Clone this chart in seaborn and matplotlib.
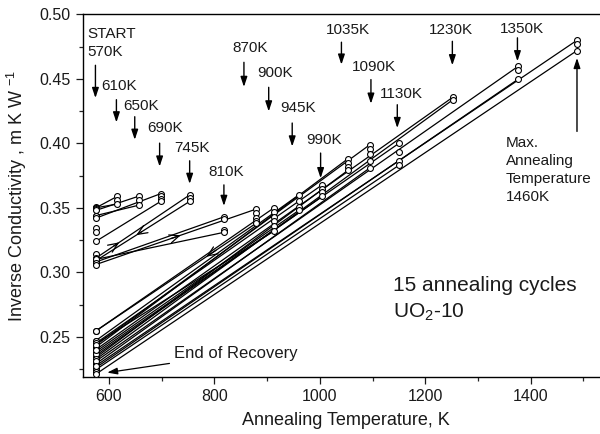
import matplotlib
matplotlib.use("Agg")
import matplotlib.pyplot as plt
import numpy as np
import pandas as pd
import seaborn as sns
from matplotlib.ticker import MultipleLocator, FormatStrFormatter

# Temperature at which the sample is measured between anneals (K)
T_BASE = 575

# Peak temperature reached in each of the 15 annealing cycles (K)
anneal_T = [616, 656, 698, 753, 818, 879, 913, 960, 1005, 1053, 1095, 1150, 1253, 1377, 1488]

# Inverse conductivity at T_BASE before each cycle is heated
base_start = [
    [0.351, 0.350],
    [0.349, 0.348],
    [0.344, 0.342],
    [0.334, 0.331, 0.314, 0.311],
    [0.309, 0.308],
    [0.310, 0.307, 0.306],
    [0.2545],
    [0.2465, 0.247],
    [0.245],
    [0.2415, 0.242],
    [0.2435],
    [0.2375, 0.237],
    [0.240],
    [0.2305, 0.231],
    [0.223, 0.2275],
]

# Inverse conductivity at T_BASE after each cycle is cooled down
base_end = [0.350, 0.344, 0.324, 0.309, 0.310, 0.2545, 0.2445, 0.2385, 0.2355,
            0.234, 0.229, 0.2245, 0.2325, 0.226, 0.221]

# Inverse conductivity measured while holding at the annealing temperature
anneal_vals = [
    [0.359, 0.356, 0.353],
    [0.359, 0.356, 0.352],
    [0.361, 0.359, 0.357, 0.355],
    [0.360, 0.358, 0.355],
    [0.343, 0.341, 0.333, 0.331],
    [0.349, 0.346, 0.342, 0.340, 0.338],
    [0.350, 0.347, 0.343, 0.340, 0.336, 0.332],
    [0.360, 0.355, 0.351, 0.348],
    [0.368, 0.365, 0.362, 0.359],
    [0.388, 0.385, 0.382, 0.379],
    [0.399, 0.396, 0.392, 0.386, 0.381],
    [0.400, 0.393, 0.386, 0.383],
    [0.436, 0.434],
    [0.460, 0.457, 0.450],
    [0.480, 0.477, 0.472],
]

# Annotated annealing temperatures: label, text x/y, arrow x, arrow tail y, arrow head y
temp_labels = [
    ("START\n570K", 558.2, 0.4776, 574.2, 0.4606, 0.4352),
    ("610K", 585.6, 0.4448, 614.0, 0.4339, 0.4163),
    ("650K", 626.6, 0.4287, 648.8, 0.4207, 0.4028),
    ("690K", 672.2, 0.4119, 696.0, 0.4002, 0.3820),
    ("745K", 723.5, 0.3963, 753.0, 0.3865, 0.3686),
    ("810K", 789.4, 0.3781, 818.0, 0.3678, 0.3515),
    ("870K", 833.6, 0.4741, 856.0, 0.4629, 0.4438),
    ("900K", 881.9, 0.4547, 903.0, 0.4435, 0.4248),
    ("945K", 924.2, 0.4275, 947.6, 0.4158, 0.3976),
    ("990K", 973.6, 0.4028, 1001.5, 0.3925, 0.3730),
    ("1035K", 1011.6, 0.4876, 1041.0, 0.4785, 0.4611),
    ("1090K", 1060.4, 0.4590, 1097.0, 0.4495, 0.4308),
    ("1130K", 1114.2, 0.4383, 1147.0, 0.4300, 0.4119),
    ("1230K", 1207.8, 0.4876, 1251.5, 0.4792, 0.4606),
    ("1350K", 1342.0, 0.4889, 1375.0, 0.4819, 0.4637),
]

# Direction chevrons on a few early heating/cooling legs: (cycle, leg, fraction)
flow_marks = [(3, "heat", 0.25), (3, "cool", 0.57), (5, "heat", 0.53), (5, "cool", 0.31)]

sns.set_theme(style="ticks")
plt.rcParams["font.family"] = ["Liberation Sans", "DejaVu Sans"]
plt.rcParams["mathtext.fontset"] = "custom"
plt.rcParams["mathtext.rm"] = "Liberation Sans"
plt.rcParams["mathtext.it"] = "Liberation Sans:italic"

# Build heating/cooling segments and the measured points
seg_rows = []
pt_rows = []
legs = {}
for i, T in enumerate(anneal_T):
    v_hi = max(anneal_vals[i])
    v_lo = min(anneal_vals[i])
    heat = ((T_BASE, base_start[i][-1]), (T, v_hi))
    cool = ((T, v_lo), (T_BASE, base_end[i]))
    legs[(i, "heat")] = heat
    legs[(i, "cool")] = cool
    for k, (a, b) in enumerate((heat, cool)):
        sid = 2 * i + k
        seg_rows.append({"seg": sid, "T": a[0], "v": a[1]})
        seg_rows.append({"seg": sid, "T": b[0], "v": b[1]})
    for v in base_start[i]:
        pt_rows.append({"T": T_BASE, "v": v})
    for v in anneal_vals[i]:
        pt_rows.append({"T": T, "v": v})
    pt_rows.append({"T": T_BASE, "v": base_end[i]})

segments = pd.DataFrame(seg_rows)
points = pd.DataFrame(pt_rows)

fig = plt.figure(figsize=(6.0, 4.34), dpi=100)
ax = fig.add_axes([0.1378, 0.132, 0.8783, 0.8346])

sns.lineplot(data=segments, x="T", y="v", units="seg", estimator=None, sort=False,
             color="black", lw=0.9, legend=False, ax=ax, zorder=2)
sns.scatterplot(data=points, x="T", y="v", marker="o", s=18, facecolor="white",
                edgecolor="black", linewidth=0.8, legend=False, ax=ax, zorder=3)

for (i, leg, f) in flow_marks:
    (x0, y0), (x1, y1) = legs[(i, leg)]
    px, py = x0 + f * (x1 - x0), y0 + f * (y1 - y0)
    qx, qy = x0 + (f - 0.06) * (x1 - x0), y0 + (f - 0.06) * (y1 - y0)
    ax.annotate("", xy=(px, py), xytext=(qx, qy),
                arrowprops=dict(arrowstyle="->,head_length=0.7,head_width=0.3",
                                color="black", lw=0.9, mutation_scale=10,
                                shrinkA=0, shrinkB=0), zorder=4)

label_kw = dict(fontsize=11, color="#1a1a1a", ha="left", va="center")
arrow_kw = dict(arrowstyle="-|>,head_length=0.6,head_width=0.2", color="black",
                lw=1.0, mutation_scale=10, shrinkA=0, shrinkB=0)
for text, tx, ty, axx, a_top, a_bot in temp_labels:
    ax.text(tx, ty, text, linespacing=1.38, **label_kw)
    ax.annotate("", xy=(axx, a_bot), xytext=(axx, a_top), arrowprops=arrow_kw)

# Highest annealing temperature
ax.annotate("", xy=(1488, 0.4663), xytext=(1488, 0.4093), arrowprops=arrow_kw)
ax.text(1353.5, 0.4060, "Max.\nAnnealing\nTemperature\n1460K", fontsize=11,
        color="#1a1a1a", ha="left", va="top", linespacing=1.38)

ax.annotate("End of Recovery", xy=(596.6, 0.2222), xytext=(723.5, 0.2369),
            fontsize=12, color="#1a1a1a", ha="left", va="center",
            arrowprops=dict(arrowstyle="-|>,head_length=0.6,head_width=0.2",
                            color="black", lw=0.9, mutation_scale=10,
                            shrinkA=1, shrinkB=0))

ax.text(1139, 0.290, "15 annealing cycles", fontsize=15, color="#1a1a1a",
        ha="left", va="center")
ax.text(1139, 0.269, r"UO$_{\mathregular{2}}$-10", fontsize=15, color="#1a1a1a",
        ha="left", va="center")

ax.set_xlim(550, 1550)
ax.set_ylim(0.219, 0.50)
ax.xaxis.set_major_locator(MultipleLocator(200))
ax.xaxis.set_minor_locator(MultipleLocator(100))
ax.yaxis.set_major_locator(MultipleLocator(0.05))
ax.yaxis.set_minor_locator(MultipleLocator(0.025))
ax.yaxis.set_major_formatter(FormatStrFormatter("%.2f"))
ax.tick_params(axis="both", which="major", direction="out", length=5, width=0.9,
               labelsize=11.5, colors="#1a1a1a", top=False, right=False)
ax.tick_params(axis="both", which="minor", direction="out", length=3, width=0.9,
               top=False, right=False)
for sp in ax.spines.values():
    sp.set_visible(True)
    sp.set_linewidth(1.0)
    sp.set_color("black")

ax.set_xlabel("Annealing Temperature, K", fontsize=13, color="#1a1a1a", labelpad=6)
ax.set_ylabel(r"Inverse Conductivity , m K W $^{\mathregular{-1}}$", fontsize=13,
              color="#1a1a1a", labelpad=8)

fig.savefig("out.png", dpi=100)
